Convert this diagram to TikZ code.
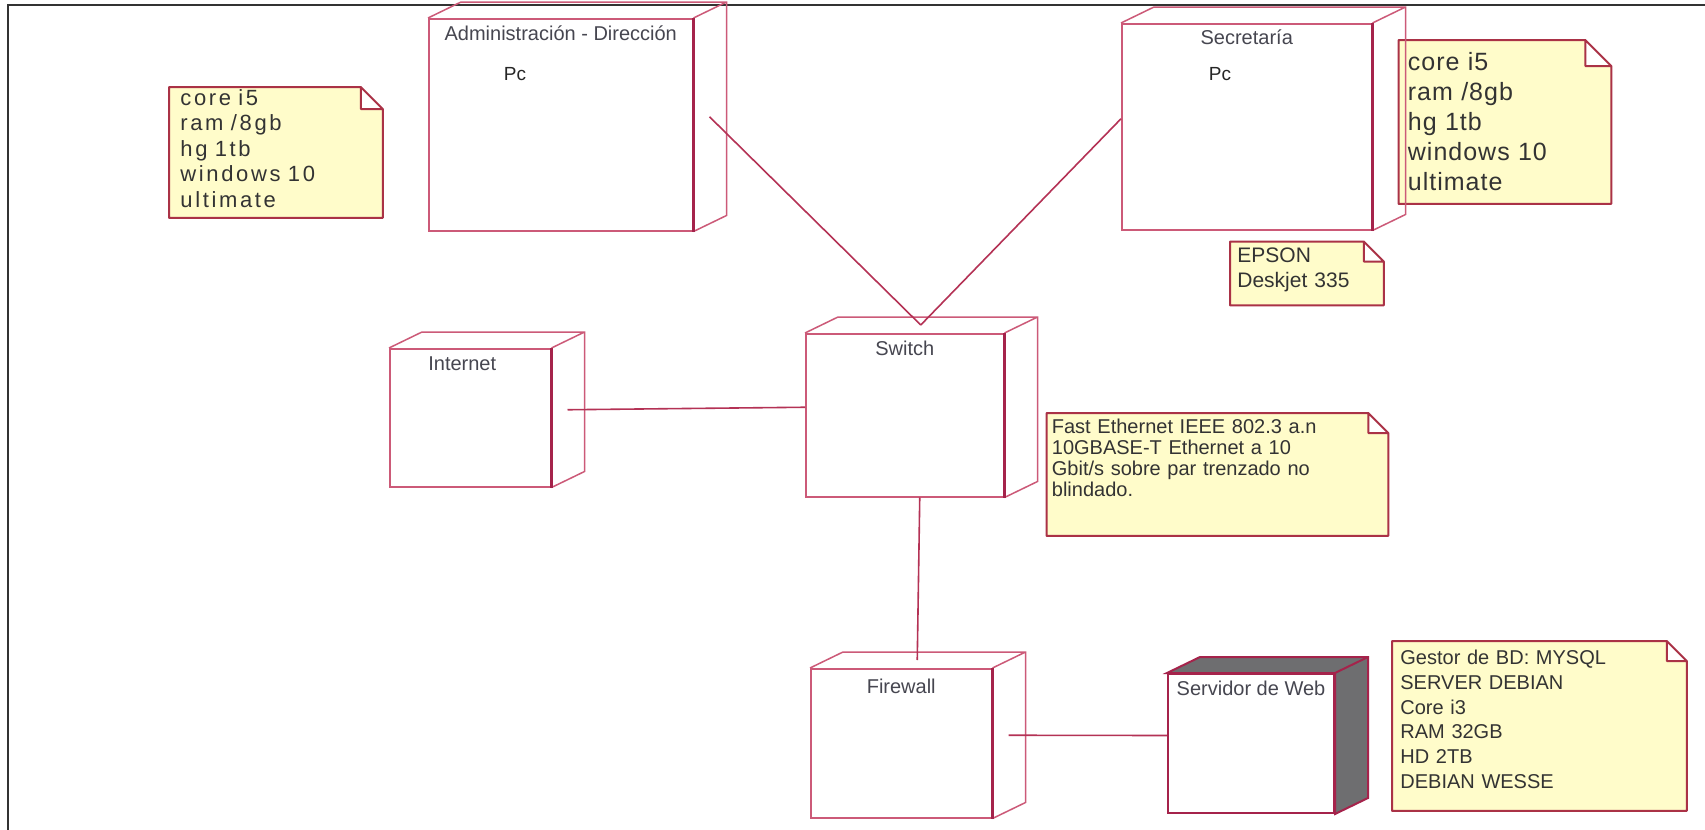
\documentclass[tikz,border=0pt]{standalone}
\usepackage{fontspec}
\setmainfont{Liberation Sans}
\newfontfamily\specsmall[LetterSpace=12]{Liberation Sans}
\newfontfamily\specbig[LetterSpace=4]{Liberation Sans}
\usetikzlibrary{positioning, backgrounds}

\definecolor{nodeline}{RGB}{204,90,120}
\definecolor{frontline}{RGB}{165,35,75}
\definecolor{noteline}{RGB}{170,50,70}
\definecolor{notefill}{RGB}{255,252,202}
\definecolor{linkline}{RGB}{180,50,85}
\definecolor{titlegray}{RGB}{70,70,80}
\definecolor{sidegray}{RGB}{110,110,112}

\begin{document}
\begin{tikzpicture}[
    x=0.5pt, y=-0.5pt,
    cube/.style = {rectangle, draw=nodeline, fill=white, line width=0.75pt, anchor=north west, inner sep=0pt},
    title/.style = {anchor=base, inner sep=0pt, yshift=-11pt, font=\fontsize{10}{12}\selectfont, text=titlegray},
    pclabel/.style = {anchor=base, inner sep=0pt, font=\fontsize{9.5}{11}\selectfont, text=black!85},
    note/.style = {rectangle, anchor=north west, align=left, inner ysep=0pt, text=black!80},
    link/.style = {draw=linkline, line width=0.8pt},
    depth/.style = {draw=nodeline, line width=0.75pt},
    frontedge/.style = {draw=frontline, line width=1.4pt}
]
    \useasboundingbox (0,0) rectangle (1705,830);
    \begin{scope}[on background layer]
        \fill[white] (0,0) rectangle (1705,830);
    \end{scope}
    \draw[black!80, line width=1pt] (8,830) |- (1705,5);

    % nodes
    \node[cube, minimum width=132pt, minimum height=106pt,
        label={[title]north:Administración - Dirección},
        label={[pclabel, xshift=43.5pt, yshift=-31pt]north west:Pc}] (adm) at (428,18) {};
    \node[cube, minimum width=125pt, minimum height=103pt,
        label={[title]north:Secretaría},
        label={[pclabel, xshift=49.5pt, yshift=-28.5pt]north west:Pc}] (sec) at (1121,23) {};
    \node[cube, minimum width=80.5pt, minimum height=69pt,
        label={[title, xshift=-4pt]north:Internet}] (inet) at (389,348) {};
    \node[cube, minimum width=99pt, minimum height=81.5pt,
        label={[title]north:Switch}] (sw) at (805,333) {};
    \node[cube, minimum width=90.5pt, minimum height=74.5pt,
        label={[title, yshift=-1.5pt]north:Firewall}] (fw) at (810,668) {};
    \node[cube, draw=frontline, line width=1pt, minimum width=83pt, minimum height=69.5pt,
        label={[title]north:Servidor de Web}] (web) at (1167,673) {};

    \foreach \n in {adm,sec,inet,sw,fw}{
        \draw[depth] (\n.north west) -- ++(33,-16) -| ([shift={(33,-16)}]\n.south east) -- (\n.south east)
            (\n.north east) -- ++(33,-16);
        \draw[frontedge] (\n.north east) -- (\n.south east);
    }
    \filldraw[fill=sidegray, draw=frontline, line width=1pt] (web.north west) -- ++(33,-16)
        -| ([shift={(33,-16)}]web.south east) -- (web.south east) -- (web.north east) -- cycle;
    \draw[frontline, line width=1pt] (web.north east) -- ++(33,-16);

    % notes
    \node[note, font=\specsmall\fontsize{11}{12.7}\selectfont, inner xsep=5.5pt, text width=95.5pt,
        text height=9pt, text depth=56pt] (admnote) at (169,87)
        {core i5\\ram /8gb\\hg 1tb\\windows 10\\ultimate};
    \node[note, font=\specbig\fontsize{12.5}{15}\selectfont, inner xsep=4.5pt, text width=97pt,
        text height=15pt, text depth=66.5pt, below right=8.5pt and 13pt of sec.north east] (secnote)
        {core i5\\ram /8gb\\hg 1tb\\windows 10\\ultimate};
    \node[note, font=\fontsize{10.5}{12.5}\selectfont, inner xsep=3.5pt, text width=69.5pt,
        text height=10.5pt, text depth=21pt, below right=5.5pt and 54.5pt of sec.south west] (prnnote)
        {EPSON\\Deskjet 335};
    \node[note, font=\fontsize{10}{10.5}\selectfont, inner xsep=2.5pt, text width=165.5pt,
        text height=10pt, text depth=51pt, below right=40pt and 21pt of sw.north east] (ethnote)
        {Fast Ethernet IEEE 802.3 a.n\\10GBASE-T Ethernet a 10\\Gbit/s sobre par trenzado no\\blindado.};
    \node[note, font=\fontsize{10}{12.4}\selectfont, inner xsep=4pt, text width=139pt,
        text height=11.5pt, text depth=73pt] (dbnote) at (1392,641)
        {Gestor de BD: MYSQL\\SERVER DEBIAN\\Core i3\\RAM 32GB\\HD 2TB\\DEBIAN WESSE};

    \begin{scope}[on background layer]
        \foreach \n/\e in {admnote/11pt, secnote/13pt, prnnote/10pt, ethnote/10pt, dbnote/10pt}
            \filldraw[draw=noteline, fill=notefill, line width=1pt, line join=round]
                (\n.north west) -- ([xshift=-\e]\n.north east) -- ([yshift=-\e]\n.north east)
                -- (\n.south east) -- (\n.south west) -- cycle
                ([xshift=-\e]\n.north east) |- ([yshift=-\e]\n.north east);
    \end{scope}

    % links
    \draw[link] ([shift={(16,-8)}]adm.east) -- ([shift={(16,-8)}]sw.north);
    \draw[link] ([yshift=4pt]sec.west) -- ([shift={(16,-8)}]sw.north);
    \draw[link] ([shift={(16,-8)}]inet.east) -- ([yshift=4pt]sw.west);
    \draw[link] ([xshift=7.5pt]sw.south) -- ([shift={(16,-8)}]fw.north);
    \draw[link] ([shift={(16,-8)}]fw.east) -- ([yshift=4pt]web.west);
\end{tikzpicture}
\end{document}
